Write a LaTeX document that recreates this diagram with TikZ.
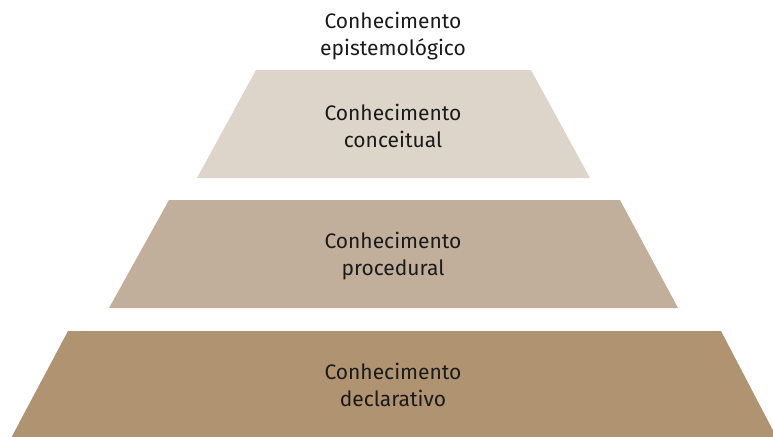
\documentclass[tikz,border=0pt]{standalone}
\usepackage{fontspec}
\setmainfont{Fira Sans}
\definecolor{lvlA}{HTML}{DDD5CA}
\definecolor{lvlB}{HTML}{C2AF9B}
\definecolor{lvlC}{HTML}{B09371}
\definecolor{txt}{HTML}{1A1A1A}
\begin{document}
\begin{tikzpicture}[x=1pt,y=-1pt,
  lbl/.style={font=\fontsize{21}{27}\selectfont, text=txt, align=center, inner sep=0pt}]
\useasboundingbox (0,0) rectangle (773,436);
\fill[lvlA] (256,70) -- (531,70) -- (590,178) -- (197,178) -- cycle;
\fill[lvlB] (169,200) -- (620,200) -- (678,308) -- (109,308) -- cycle;
\fill[lvlC] (68,331) -- (721,331) -- (778,440) -- (10,440) -- cycle;
\node[lbl] (epi) at (393,36) {Conhecimento\\epistemológico};
\node[lbl] (con) at (393,126) {Conhecimento\\conceitual};
\node[lbl] (pro) at (393,256) {Conhecimento\\procedural};
\node[lbl] (dec) at (393,385) {Conhecimento\\declarativo};
\end{tikzpicture}
\end{document}
